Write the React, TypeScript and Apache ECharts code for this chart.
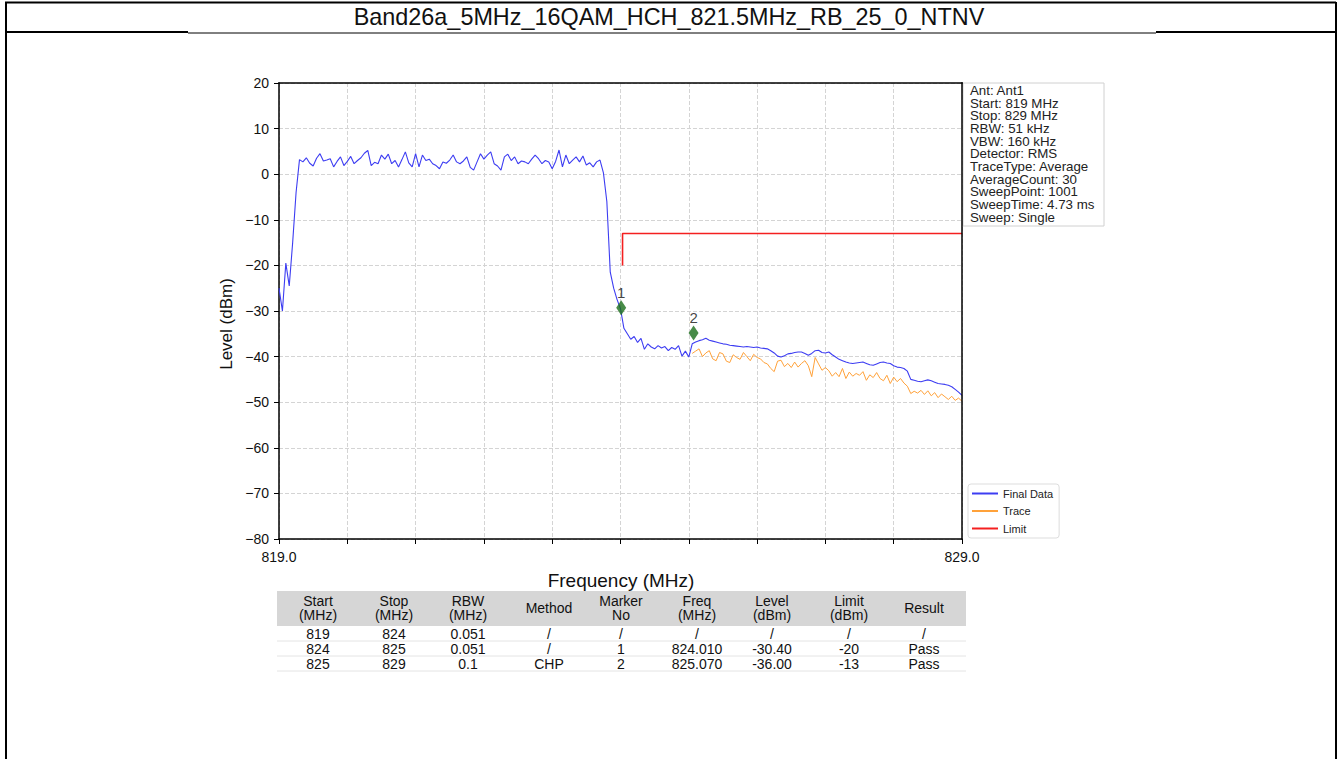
import React, { useEffect, useRef } from 'react';
import * as echarts from 'echarts';

const FONT = 'Liberation Sans, Arial, Helvetica, sans-serif';

const titleText = 'Band26a_5MHz_16QAM_HCH_821.5MHz_RB_25_0_NTNV';

// Final Data: level (dBm) every 0.05 MHz from 819.00 to 829.00
const FINAL_START = 819.0;
const FINAL_STEP = 0.05;
const finalLevels = [
  -25.0, -30.0, -19.5, -24.5, -15.0, -4.0, 3.2, 2.7, 3.6, 2.4,
  1.8, 3.5, 4.5, 2.9, 3.1, 3.4, 1.6, 2.8, 3.8, 1.9,
  2.8, 3.9, 2.3, 3.0, 3.6, 4.6, 5.2, 1.9, 2.6, 2.3,
  4.2, 3.3, 4.4, 2.3, 3.0, 1.6, 3.2, 4.9, 2.5, 1.6,
  4.5, 1.6, 4.2, 3.0, 3.3, 2.3, 1.9, 1.2, 2.7, 2.4,
  3.1, 4.2, 2.7, 2.3, 2.9, 3.8, 1.5, 0.9, 2.7, 4.5,
  3.3, 4.2, 4.9, 2.3, 1.8, 0.9, 3.8, 4.4, 3.0, 3.8,
  2.3, 2.9, 2.7, 2.3, 3.3, 4.2, 3.4, 2.3, 3.0, 2.7,
  1.2, 2.8, 5.3, 1.6, 4.2, 2.3, 3.1, 3.8, 2.7, 4.0,
  2.0, 2.5, 1.6, 2.7, 3.1, 0.3, -6.0, -21.5, -25.0, -27.5,
  -29.5, -33.8, -35.0, -36.2, -35.6, -36.9, -36.0, -38.4, -37.2, -37.9,
  -38.3, -37.6, -38.1, -37.8, -38.7, -38.0, -38.4, -37.6, -39.9, -38.8,
  -40.1, -37.2, -36.8, -36.5, -36.3, -36.0, -36.4, -36.6, -36.8, -37.0,
  -37.2, -37.3, -37.5, -37.6, -37.7, -37.8, -37.9, -37.8, -37.9, -38.0,
  -37.9, -38.1, -38.2, -38.3, -38.7, -39.2, -39.9, -40.1, -39.8, -39.4,
  -39.3, -39.1, -39.0, -39.0, -39.3, -39.7, -39.3, -38.7, -38.6, -39.1,
  -39.2, -39.0, -39.6, -40.1, -40.6, -40.9, -41.2, -41.4, -41.5, -41.4,
  -41.3, -41.2, -41.5, -41.8, -41.9, -41.6, -41.3, -41.2, -41.4, -41.5,
  -42.0, -42.3, -42.4, -42.6, -43.2, -45.0, -45.2, -45.4, -45.5, -45.3,
  -45.1, -45.3, -45.6, -45.9, -46.0, -46.1, -46.3, -46.6, -47.2, -47.8,
  -48.5,
];

// Trace: level (dBm) every 0.05 MHz from 825.05 to 829.00
const TRACE_START = 825.05;
const TRACE_STEP = 0.05;
const traceLevels = [
  -39.3, -38.8, -38.3, -40.0, -39.2, -38.7, -40.5, -40.9, -39.1, -39.4,
  -41.0, -41.3, -39.6, -40.2, -40.6, -39.1, -40.0, -40.9, -39.5, -40.2,
  -40.5, -41.3, -41.6, -42.6, -43.3, -41.0, -40.8, -42.2, -41.5, -42.4,
  -41.2, -42.3, -41.5, -40.9, -42.0, -44.4, -40.2, -41.6, -43.0, -42.4,
  -43.1, -44.3, -43.5, -44.4, -42.6, -44.8, -43.4, -44.3, -43.7, -44.1,
  -43.3, -45.2, -44.0, -44.6, -43.5, -44.8, -45.3, -44.1, -45.9, -44.5,
  -45.5, -44.8, -45.8, -46.5, -48.1, -47.6, -48.0, -47.4, -48.3, -47.5,
  -48.6, -47.9, -49.0, -48.2, -48.8, -49.4, -48.7, -49.6, -49.1, -49.8,
];

const limitFreq = [824.03, 824.03, 829.0];
const limitLevel = [-20, -13, -13];

const markerNo = ['1', '2'];
const markerFreq = [824.01, 825.07];
const markerLevel = [-29.3, -34.8];

const seriesNames = ['Final Data', 'Trace', 'Limit'];

const infoLines = [
  'Ant: Ant1',
  'Start: 819 MHz',
  'Stop: 829 MHz',
  'RBW: 51 kHz',
  'VBW: 160 kHz',
  'Detector: RMS',
  'TraceType: Average',
  'AverageCount: 30',
  'SweepPoint: 1001',
  'SweepTime: 4.73 ms',
  'Sweep: Single',
];

const tableHeader = [
  'Start\n(MHz)', 'Stop\n(MHz)', 'RBW\n(MHz)', 'Method', 'Marker\nNo',
  'Freq\n(MHz)', 'Level\n(dBm)', 'Limit\n(dBm)', 'Result',
];
const tableRow1 = ['819', '824', '0.051', '/', '/', '/', '/', '/', '/'];
const tableRow2 = ['824', '825', '0.051', '/', '1', '824.010', '-30.40', '-20', 'Pass'];
const tableRow3 = ['825', '829', '0.1', 'CHP', '2', '825.070', '-36.00', '-13', 'Pass'];

const colCenters = [318, 394, 468, 549, 621, 697, 772, 849, 924];

const App: React.FC = () => {
  const ref = useRef<HTMLDivElement>(null);

  useEffect(() => {
    if (!ref.current) return;
    const chart = echarts.init(ref.current, undefined, { renderer: 'svg' });

    const finalData = finalLevels.map((v, i) => [+(FINAL_START + i * FINAL_STEP).toFixed(2), v]);
    const traceData = traceLevels.map((v, i) => [+(TRACE_START + i * TRACE_STEP).toFixed(2), v]);
    const limitData = limitLevel.map((v, i) => [limitFreq[i], v]);
    const markerData = markerLevel.map((v, i) => [markerFreq[i], v]);

    const txt = (text: string, x: number, y: number, size: number, align = 'center', vAlign = 'middle', extra: any = {}) => ({
      type: 'text',
      x,
      y,
      silent: true,
      ...extra,
      style: {
        text,
        x: 0,
        y: 0,
        fill: '#111',
        font: `${size}px ${FONT}`,
        fontSize: size,
        fontFamily: FONT,
        textAlign: align,
        align,
        textVerticalAlign: vAlign,
        verticalAlign: vAlign,
        lineHeight: 14.5,
      },
    });

    const line = (x1: number, y1: number, x2: number, y2: number, w: number, color = '#000', z = 0) => ({
      type: 'line',
      silent: true,
      z,
      shape: { x1, y1, x2, y2 },
      style: { stroke: color, lineWidth: w },
    });

    const graphics: any[] = [
      // page frame
      line(5, 2.5, 1336, 2.5, 2),
      line(6, 2, 6, 759, 2),
      line(1336, 2, 1336, 759, 2),
      line(5, 32, 188, 32, 2),
      line(1156, 32, 1337, 32, 2),
      line(188, 33, 1156, 33, 1),
      txt(titleText, 669, 17, 23.4),
      // axis titles
      txt('Level (dBm)', 226, 324, 17, 'center', 'middle', { rotation: Math.PI / 2 }),
      txt('Frequency (MHz)', 621, 580, 19),
      // info box
      {
        type: 'rect',
        silent: true,
        shape: { x: 963, y: 83, width: 141, height: 143 },
        style: { fill: '#fff', stroke: '#d0d0d0', lineWidth: 1 },
      },
      {
        type: 'text',
        x: 970,
        y: 84,
        silent: true,
        style: {
          text: infoLines.join('\n'),
          fill: '#222',
          font: `13.3px ${FONT}`,
          fontSize: 13.3,
          fontFamily: FONT,
          lineHeight: 12.7,
          textAlign: 'left',
          align: 'left',
          textVerticalAlign: 'top',
          verticalAlign: 'top',
        },
      },
      // top and right plot spines, above the grid lines
      line(278.25, 83, 962.75, 83, 1.5, '#000', 100),
      line(962, 82.25, 962, 539.75, 1.5, '#000', 100),
      // table
      {
        type: 'rect',
        silent: true,
        shape: { x: 277, y: 591, width: 689, height: 35 },
        style: { fill: '#d6d6d6' },
      },
      line(277, 641, 966, 641, 1, '#e4e4e4'),
      line(277, 656, 966, 656, 1, '#e4e4e4'),
      line(277, 671, 966, 671, 1, '#e4e4e4'),
    ];

    colCenters.forEach((cx, i) => {
      graphics.push(txt(tableHeader[i], cx, 608, 14));
      graphics.push(txt(tableRow1[i], cx, 633.5, 14));
      graphics.push(txt(tableRow2[i], cx, 648.5, 14));
      graphics.push(txt(tableRow3[i], cx, 663.5, 14));
    });

    const axisLabelStyle = { color: '#111', fontSize: 14, fontFamily: FONT };
    const spine = { show: true, onZero: false, lineStyle: { color: '#000', width: 1.5 } };

    chart.setOption({
      animation: false,
      backgroundColor: '#fff',
      grid: {
        left: 279,
        right: 376,
        top: 83,
        bottom: 220,
        show: true,
        borderWidth: 0,
        backgroundColor: '#fff',
      },
      xAxis: {
        type: 'value',
        min: 819,
        max: 829,
        interval: 1,
        axisLine: spine,
        axisTick: { show: true, length: 5, lineStyle: { color: '#000', width: 1 } },
        axisLabel: {
          ...axisLabelStyle,
          margin: 11,
          showMinLabel: true,
          showMaxLabel: true,
          formatter: (v: number) => (v === 819 || v === 829 ? v.toFixed(1) : ''),
        },
        splitLine: { show: true, lineStyle: { color: '#d4d4d4', type: [4, 2], width: 1 } },
      },
      yAxis: {
        type: 'value',
        min: -80,
        max: 20,
        interval: 10,
        axisLine: spine,
        axisTick: { show: true, length: 5, lineStyle: { color: '#000', width: 1 } },
        axisLabel: {
          ...axisLabelStyle,
          margin: 10,
          formatter: (v: number) => String(v).replace('-', '\u2212'),
        },
        splitLine: { show: true, lineStyle: { color: '#d4d4d4', type: [4, 2], width: 1 } },
      },
      legend: {
        data: seriesNames,
        orient: 'vertical',
        left: 968,
        top: 484,
        icon: 'rect',
        itemWidth: 26,
        itemHeight: 2,
        itemGap: 6.5,
        padding: [4, 6, 4, 4],
        backgroundColor: '#fff',
        borderColor: '#dddddd',
        borderWidth: 1,
        borderRadius: 3,
        textStyle: { fontSize: 11, color: '#222', fontFamily: FONT },
      },
      series: [
        {
          name: 'Trace',
          type: 'line',
          data: traceData,
          showSymbol: false,
          symbol: 'none',
          lineStyle: { color: '#ffa23a', width: 1 },
          itemStyle: { color: '#ffa23a' },
          z: 2,
        },
        {
          name: 'Final Data',
          type: 'line',
          data: finalData,
          showSymbol: false,
          symbol: 'none',
          lineStyle: { color: '#3d3df2', width: 1.1 },
          itemStyle: { color: '#3d3df2' },
          z: 3,
        },
        {
          name: 'Limit',
          type: 'line',
          data: limitData,
          showSymbol: false,
          symbol: 'none',
          lineStyle: { color: '#f42020', width: 1.6 },
          itemStyle: { color: '#f42020' },
          z: 4,
        },
        {
          name: 'Marker',
          type: 'scatter',
          data: markerData,
          symbol: 'diamond',
          symbolSize: [10, 15],
          itemStyle: { color: '#1a6e1a' },
          label: {
            show: true,
            position: 'top',
            distance: 0,
            color: '#111',
            fontSize: 15,
            fontFamily: FONT,
            formatter: (p: any) => markerNo[p.dataIndex],
          },
          z: 5,
        },
      ],
      graphic: graphics,
    });

    return () => chart.dispose();
  }, []);

  return (
    <div
      ref={ref}
      style={{ position: 'absolute', left: 0, top: 0, width: 1338, height: 759, background: '#fff' }}
    />
  );
};

export default App;
